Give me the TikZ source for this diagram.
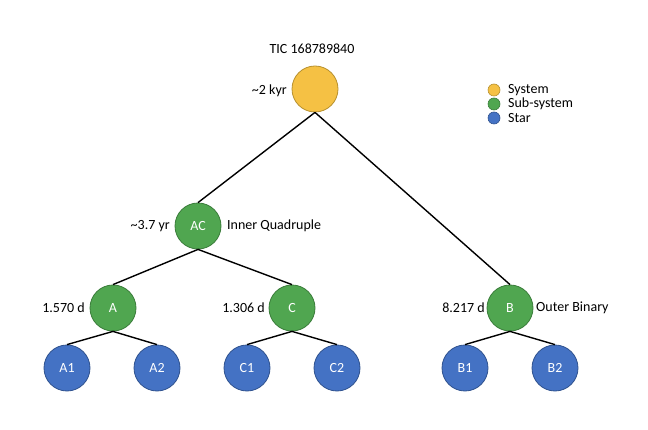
\documentclass[tikz,border=0pt]{standalone}
\usepackage{fontspec}
\setmainfont{Carlito}
\definecolor{sysfill}{HTML}{F5C144}
\definecolor{sysdraw}{HTML}{B8912E}
\definecolor{subfill}{HTML}{50A650}
\definecolor{subdraw}{HTML}{3A7D3A}
\definecolor{starfill}{HTML}{4472C4}
\definecolor{stardraw}{HTML}{2F528F}
\begin{document}
\begin{tikzpicture}[x=1pt,y=-1pt,
  every node/.style={font=\fontsize{14}{16}\selectfont},
  circ/.style={circle,minimum size=46pt,inner sep=0pt,line width=0.8pt,text=white},
  sysnode/.style={circ,fill=sysfill,draw=sysdraw},
  subnode/.style={circ,fill=subfill,draw=subdraw},
  starnode/.style={circ,fill=starfill,draw=stardraw},
  legdot/.style={circle,minimum size=12pt,inner sep=0pt,line width=0.6pt},
  edge/.style={line width=1.4pt,black},
  lab/.style={inner sep=0pt}]
\useasboundingbox (0,0) rectangle (648,430);
\fill[white] (0,0) rectangle (648,430);
% nodes
\node[sysnode] (T) at (315,89) {};
\node[subnode] (AC) at (198,226) {AC};
\node[subnode] (A) at (113,308) {A};
\node[subnode] (C) at (292,308) {C};
\node[subnode] (B) at (510,308) {B};
\node[starnode] (A1) at (67,368) {A1};
\node[starnode] (A2) at (157,368) {A2};
\node[starnode] (C1) at (247,368) {C1};
\node[starnode] (C2) at (337,368) {C2};
\node[starnode] (B1) at (465,368) {B1};
\node[starnode] (B2) at (555,368) {B2};
% edges
\draw[edge] (T.south) -- (AC.north);
\draw[edge] (T.south) -- (B.north);
\draw[edge] (AC.south) -- (A.north);
\draw[edge] (AC.south) -- (C.north);
\draw[edge] (A.south) -- (A1.north);
\draw[edge] (A.south) -- (A2.north);
\draw[edge] (C.south) -- (C1.north);
\draw[edge] (C.south) -- (C2.north);
\draw[edge] (B.south) -- (B1.north);
\draw[edge] (B.south) -- (B2.north);
% labels
\node[lab] (title) at (312,49) {TIC 168789840};
\node[lab,anchor=east] (lT) at (287,91) {\char`\~2 kyr};
\node[lab,anchor=east] (lAC) at (170,226) {\char`\~3.7 yr};
\node[lab,anchor=west] (rAC) at (227,226) {Inner Quadruple};
\node[lab,anchor=east] (lA) at (85,308) {1.570 d};
\node[lab,anchor=east] (lC) at (265,308) {1.306 d};
\node[lab,anchor=east] (lB) at (485,308) {8.217 d};
\node[lab,anchor=west] (rB) at (536,308) {Outer Binary};
% legend
\node[legdot,fill=sysfill,draw=sysdraw] (g1) at (494,90) {};
\node[legdot,fill=subfill,draw=subdraw] (g2) at (494,104) {};
\node[legdot,fill=starfill,draw=stardraw] (g3) at (494,118) {};
\node[lab,anchor=west] (t1) at (508,90) {System};
\node[lab,anchor=west] (t2) at (508,104) {Sub-system};
\node[lab,anchor=west] (t3) at (508,118) {Star};
\end{tikzpicture}
\end{document}
